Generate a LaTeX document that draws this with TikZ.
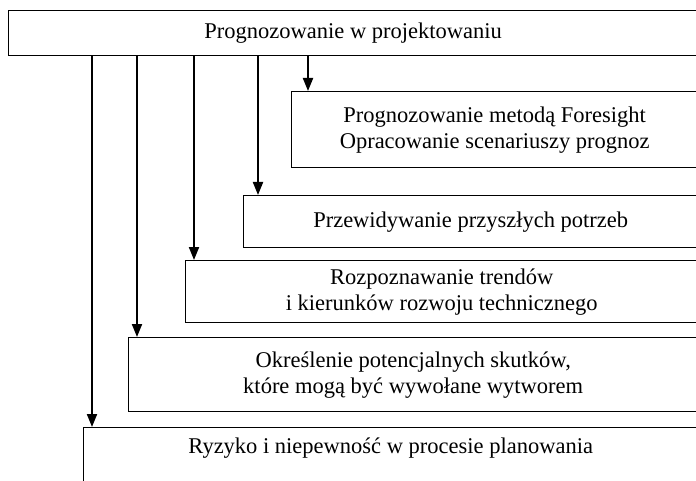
\documentclass[tikz,border=0pt]{standalone}
\usepackage{fontspec}
\setmainfont{Liberation Serif}
\usetikzlibrary{arrows.meta}
\begin{document}
\begin{tikzpicture}[x=1pt,y=-1pt,
  box/.style={draw, line width=1.4pt, rectangle, anchor=north west,
    inner sep=0pt, align=center,
    font=\fontsize{22.5}{26}\selectfont},
  lbl/.style={inner sep=0pt, align=center,
    font=\fontsize{22.5}{26}\selectfont},
  arr/.style={line width=2pt, -{Triangle[length=13pt,width=10pt]}}]
\clip (0,0) rectangle (696,481);
% main heading box, open on the right edge
\node[box, minimum width=689pt, minimum height=45pt] (top) at (8,10)
  {Prognozowanie w projektowaniu};
% stacked boxes, each starting further left
\node[box, minimum width=406pt, minimum height=76pt] (b1) at (291,91)
  {Prognozowanie metodą Foresight\\Opracowanie scenariuszy prognoz};
\node[box, minimum width=454pt, minimum height=52pt] (b2) at (243,195)
  {Przewidywanie przyszłych potrzeb};
\node[box, minimum width=512pt, minimum height=62pt] (b3) at (185,260)
  {Rozpoznawanie trendów\\i kierunków rozwoju technicznego};
\node[box, minimum width=569pt, minimum height=74pt] (b4) at (128,337)
  {Określenie potencjalnych skutków,\\które mogą być wywołane wytworem};
\node[box, minimum width=614pt, minimum height=120pt] (b5) at (83,427) {};
\node[lbl] (t5) at ([yshift=-21pt]b5.north)
  {Ryzyko i niepewność w procesie planowania};
% arrows from the heading down to each box
\draw[arr] ([xshift=17pt]b1.north west |- top.south) -- ([xshift=17pt]b1.north west);
\draw[arr] ([xshift=15pt]b2.north west |- top.south) -- ([xshift=15pt]b2.north west);
\draw[arr] ([xshift=9pt]b3.north west |- top.south) -- ([xshift=9pt]b3.north west);
\draw[arr] ([xshift=9pt]b4.north west |- top.south) -- ([xshift=9pt]b4.north west);
\draw[arr] ([xshift=9pt]b5.north west |- top.south) -- ([xshift=9pt]b5.north west);
\end{tikzpicture}
\end{document}
